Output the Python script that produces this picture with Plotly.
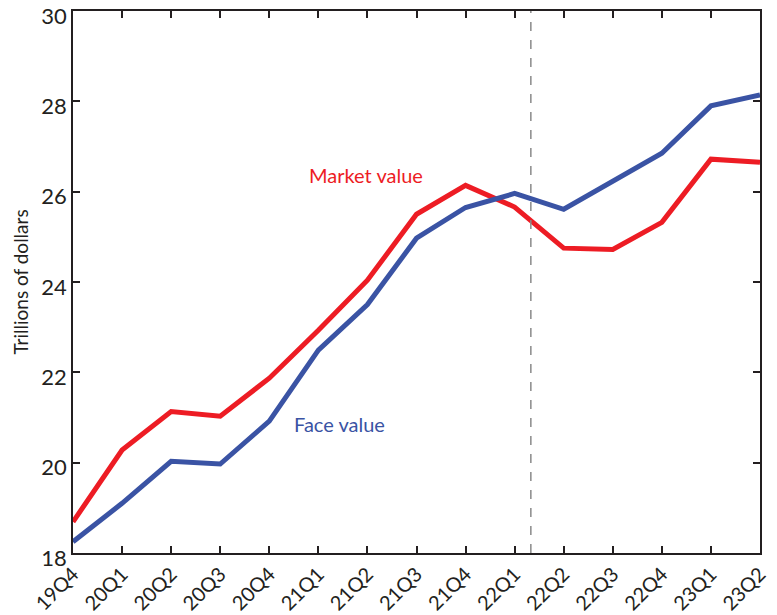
import plotly.graph_objects as go

quarters = ["19Q4", "20Q1", "20Q2", "20Q3", "20Q4", "21Q1", "21Q2", "21Q3",
            "21Q4", "22Q1", "22Q2", "22Q3", "22Q4", "23Q1", "23Q2"]

face_value = [18.25, 19.10, 20.03, 19.97, 20.92, 22.49, 23.50, 24.97,
              25.65, 25.96, 25.61, 26.23, 26.85, 27.90, 28.14]

market_value = [18.69, 20.28, 21.13, 21.03, 21.87, 22.93, 24.04, 25.50,
                26.14, 25.66, 24.75, 24.72, 25.32, 26.72, 26.65]

RED = "#ED1C24"
BLUE = "#3A53A4"
FONT = "Lato"

fig = go.Figure()

# Market value
fig.add_trace(
    go.Scatter(
        x=quarters,
        y=market_value,
        mode="lines",
        line=dict(color=RED, width=5),
        name="Market value"
    )
)

# Face value
fig.add_trace(
    go.Scatter(
        x=quarters,
        y=face_value,
        mode="lines",
        line=dict(color=BLUE, width=5),
        name="Face value"
    )
)

# dashed marker between 22Q1 and 22Q2
fig.add_shape(
    type="line", xref="x", yref="paper",
    x0=9.33, x1=9.33, y0=0, y1=1,
    line=dict(color="#8a8a8a", width=1.5, dash="dash")
)

fig.add_annotation(x=5.97, y=26.36, text="Market value", showarrow=False,
                   font=dict(color=RED, size=20, family=FONT))
fig.add_annotation(x=5.44, y=20.85, text="Face value", showarrow=False,
                   font=dict(color=BLUE, size=20, family=FONT))

# page has an 8px body margin, so the figure is sized/margined to fit
fig.update_layout(
    width=769,
    height=607,
    margin=dict(l=65, r=17, t=3, b=62),
    plot_bgcolor="white",
    paper_bgcolor="white",
    showlegend=False,
    font=dict(family=FONT, color="#231f20"),
    xaxis=dict(
        range=[0, 14],
        automargin=False,
        showgrid=False,
        showline=True, linecolor="#231f20", linewidth=1.5, mirror="ticks",
        ticks="inside", ticklen=7, tickcolor="#231f20", tickwidth=1.5,
        tickangle=-45,
        ticklabeloverflow="allow",
        tickfont=dict(size=20, family=FONT)
    ),
    yaxis=dict(
        range=[18, 30],
        dtick=2,
        automargin=False,
        showgrid=False,
        zeroline=False,
        showline=True, linecolor="#231f20", linewidth=1.5, mirror="ticks",
        ticks="inside", ticklen=7, tickcolor="#231f20", tickwidth=1.5,
        ticklabeloverflow="allow",
        ticklabelshift=5,
        tickfont=dict(size=22, family=FONT),
        title=dict(text="Trillions of dollars", font=dict(size=19, family=FONT),
                   standoff=8)
    )
)

fig.write_html("out.html")
